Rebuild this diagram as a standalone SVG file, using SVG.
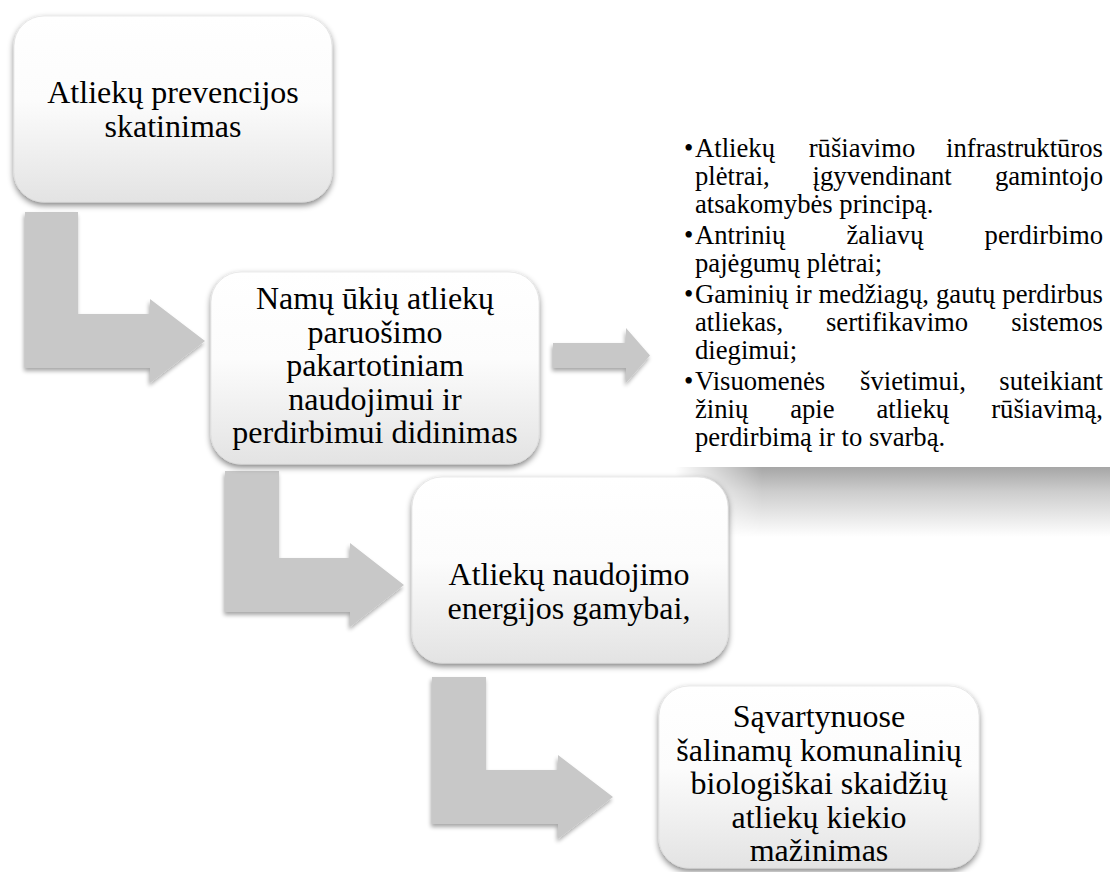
<svg xmlns="http://www.w3.org/2000/svg" width="1110" height="872" viewBox="0 0 1110 872">
<defs>
<linearGradient id="boxFill" x1="0" y1="0" x2="0" y2="1">
<stop offset="0" stop-color="#ffffff"/>
<stop offset="0.45" stop-color="#fcfcfc"/>
<stop offset="1" stop-color="#e3e3e3"/>
</linearGradient>
<linearGradient id="bandV" x1="0" y1="0" x2="0" y2="1">
<stop offset="0" stop-color="#a6a6a6"/>
<stop offset="0.35" stop-color="#cdcdcd"/>
<stop offset="1" stop-color="#ffffff"/>
</linearGradient>
<linearGradient id="bandH" x1="0" y1="0" x2="1" y2="0">
<stop offset="0" stop-color="#000"/>
<stop offset="0.2" stop-color="#fff"/>
<stop offset="1" stop-color="#fff"/>
</linearGradient>
<mask id="bandMask" maskUnits="userSpaceOnUse" x="670" y="460" width="440" height="80">
<rect x="675" y="467" width="435" height="70" fill="url(#bandH)"/>
</mask>
<filter id="boxShadow" x="-10%" y="-10%" width="120%" height="125%">
<feGaussianBlur in="SourceAlpha" stdDeviation="3"/>
<feOffset dx="0" dy="3" result="b"/>
<feComponentTransfer><feFuncA type="linear" slope="0.5"/></feComponentTransfer>
<feMerge><feMergeNode/><feMergeNode in="SourceGraphic"/></feMerge>
</filter>
<filter id="arrowShadow" x="-10%" y="-10%" width="120%" height="125%">
<feGaussianBlur in="SourceAlpha" stdDeviation="2"/>
<feOffset dx="-1" dy="3" result="b"/>
<feComponentTransfer><feFuncA type="linear" slope="0.35"/></feComponentTransfer>
<feMerge><feMergeNode/><feMergeNode in="SourceGraphic"/></feMerge>
</filter>
</defs>
<style>
.box{fill:url(#boxFill);stroke:#dedede;stroke-width:0.6;filter:url(#boxShadow)}
.arrow{fill:#c8c8c8;filter:url(#arrowShadow)}
.t{font-family:"Liberation Serif","Times New Roman",serif;fill:#000}
.bt{font-size:32px;text-anchor:middle}
.lt{font-size:26.67px}
</style>

<g id="connectors">
<path class="arrow" d="M25,212 H78 V314 H150 V299 L205,341 L150,383 V368 H25 Z"/>
<path class="arrow" d="M225,471 H279 V558 H350 V543 L404,585 L350,627 V612 H225 Z"/>
<path class="arrow" d="M432,677 H486 V770 H558 V755 L613,797 L558,839 V824 H432 Z"/>
<path class="arrow" d="M553,343 H626 V328 L650,355.5 L626,383 V368 H553 Z"/>
</g>

<g id="list">
<rect x="675" y="467" width="435" height="70" fill="url(#bandV)" mask="url(#bandMask)"/>
<text class="t lt">
<tspan x="684" y="157">•</tspan><tspan x="695" y="157">Atliekų</tspan><tspan x="808.7" y="157">rūšiavimo</tspan><tspan x="1103" y="157" text-anchor="end">infrastruktūros</tspan>
</text>
<text class="t lt">
<tspan x="695" y="185">plėtrai,</tspan><tspan x="812.6" y="185">įgyvendinant</tspan><tspan x="1103" y="185" text-anchor="end">gamintojo</tspan>
</text>
<text class="t lt" x="695" y="213">atsakomybės principą.</text>
<text class="t lt">
<tspan x="684" y="244">•</tspan><tspan x="695" y="244">Antrinių</tspan><tspan x="846.5" y="244">žaliavų</tspan><tspan x="1103" y="244" text-anchor="end">perdirbimo</tspan>
</text>
<text class="t lt" x="695" y="272">pajėgumų plėtrai;</text>
<text class="t lt">
<tspan x="684" y="303">•</tspan><tspan x="695" y="303">Gaminių</tspan><tspan x="795.3" y="303">ir</tspan><tspan x="818.6" y="303">medžiagų,</tspan><tspan x="936" y="303">gautų</tspan><tspan x="1103" y="303" text-anchor="end">perdirbus</tspan>
</text>
<text class="t lt">
<tspan x="695" y="331">atliekas,</tspan><tspan x="826" y="331">sertifikavimo</tspan><tspan x="1103" y="331" text-anchor="end">sistemos</tspan>
</text>
<text class="t lt" x="695" y="359">diegimui;</text>
<text class="t lt">
<tspan x="684" y="390">•</tspan><tspan x="695" y="390">Visuomenės</tspan><tspan x="860.1" y="390">švietimui,</tspan><tspan x="1103" y="390" text-anchor="end">suteikiant</tspan>
</text>
<text class="t lt">
<tspan x="695" y="418">žinių</tspan><tspan x="790.2" y="418">apie</tspan><tspan x="876.5" y="418">atliekų</tspan><tspan x="1103" y="418" text-anchor="end">rūšiavimą,</tspan>
</text>
<text class="t lt" x="695" y="446">perdirbimą ir to svarbą.</text>
</g>

<g id="node1">
<rect class="box" x="14" y="16" width="318" height="186" rx="30"/>
<text class="t bt"><tspan x="173" y="103">Atliekų prevencijos</tspan><tspan x="173" y="137">skatinimas</tspan></text>
</g>

<g id="node2">
<rect class="box" x="211" y="272" width="328" height="192" rx="30"/>
<text class="t bt"><tspan x="375" y="309">Namų ūkių atliekų</tspan><tspan x="375" y="342.5">paruošimo</tspan><tspan x="375" y="376">pakartotiniam</tspan><tspan x="375" y="409.5">naudojimui ir</tspan><tspan x="375" y="443">perdirbimui didinimas</tspan></text>
</g>

<g id="node3">
<rect class="box" x="412" y="477" width="316" height="186" rx="30"/>
<text class="t bt"><tspan x="569" y="585">Atliekų naudojimo</tspan><tspan x="569" y="619">energijos gamybai,</tspan></text>
</g>

<g id="node4">
<rect class="box" x="659" y="686" width="320" height="182" rx="30"/>
<text class="t bt"><tspan x="819" y="727">Sąvartynuose</tspan><tspan x="819" y="760.5">šalinamų komunalinių</tspan><tspan x="819" y="794">biologiškai skaidžių</tspan><tspan x="819" y="827.5">atliekų kiekio</tspan><tspan x="819" y="861">mažinimas</tspan></text>
</g>
</svg>
